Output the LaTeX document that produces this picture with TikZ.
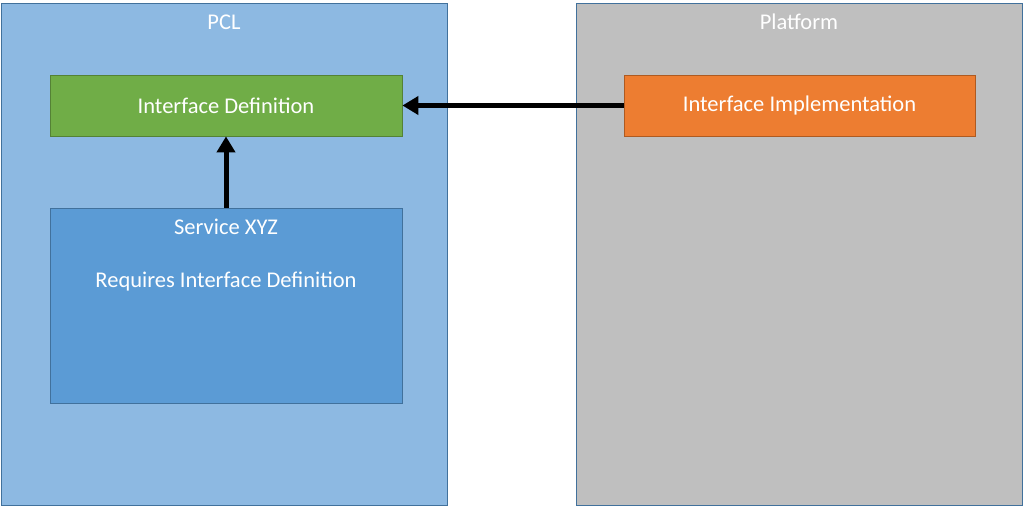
\documentclass[tikz,border=0pt]{standalone}
\usepackage{fontspec}
\setmainfont{Carlito}
\usepackage{xcolor}
\usetikzlibrary{arrows.meta}
\definecolor{C1}{RGB}{141,185,226}
\definecolor{C2}{RGB}{191,191,191}
\definecolor{C3}{RGB}{112,173,71}
\definecolor{C4}{RGB}{237,125,49}
\definecolor{C5}{RGB}{91,155,213}
\definecolor{B1}{RGB}{65,113,156}
\definecolor{B3}{RGB}{84,130,53}
\definecolor{B4}{RGB}{174,90,33}

\tikzset{
    box/.style={draw, line width=0.8pt, inner sep=0pt, text=white,
                font=\fontsize{22.5}{27}\selectfont},
    label/.style={text=white, font=\fontsize{22.5}{27}\selectfont},
    link/.style={line width=5pt, -{Triangle[length=16pt, width=18pt]}}
}

\begin{document}
\begin{tikzpicture}[x=1pt, y=-1pt]
    \useasboundingbox (0, 0) rectangle (1024, 506);

    \foreach \name/\x/\fill/\text in {pcl/224/C1/PCL,
                                      platform/799/C2/Platform}{
        \node (\name) [box, draw=B1, fill=\fill, minimum width=446pt,
                       minimum height=502pt] at (\x, 254) {};
        \node (\name-title) [label] at (\x, 22) {\text};
    }

    \node (definition) [box, draw=B3, fill=C3, minimum width=352pt,
                        minimum height=61pt] at (226, 105.5) {Interface Definition};
    \node (implementation) [box, draw=B4, fill=C4, minimum width=351pt,
                            minimum height=61pt] at (799.5, 105.5) {Interface Implementation};
    \node (service) [box, draw=B1, fill=C5, minimum width=352pt,
                     minimum height=195pt] at (226, 305.5) {};
    \node (service-title) [label] at (226, 227) {Service XYZ};
    \node (service-text) [label] at (226, 282) {Requires Interface Definition};

    \draw [link] (implementation.west) -- (definition.east);
    \draw [link] (service.north) -- (definition.south);
\end{tikzpicture}
\end{document}
